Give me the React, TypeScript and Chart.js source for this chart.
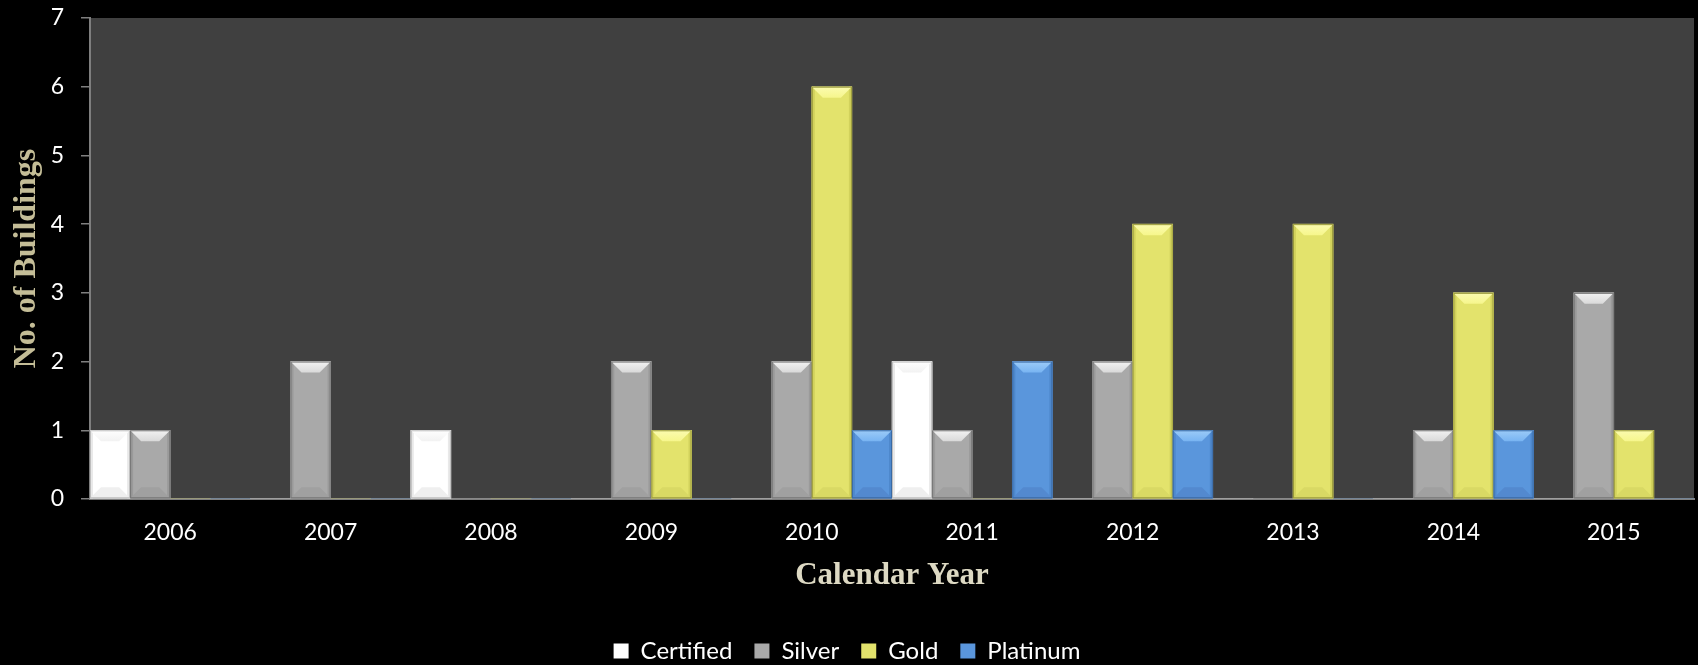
import React, { useEffect, useRef } from "react";
import { Chart, registerables } from "chart.js";

Chart.register(...registerables);

// ---- data ----
const years = ["2006", "2007", "2008", "2009", "2010", "2011", "2012", "2013", "2014", "2015"];
const seriesNames = ["Certified", "Silver", "Gold", "Platinum"];
const certified = [1, 0, 1, 0, 0, 2, 0, 0, 0, 0];
const silver = [1, 2, 0, 2, 2, 1, 2, 0, 1, 3];
const gold = [0, 0, 0, 1, 6, 0, 4, 4, 3, 1];
const platinum = [0, 0, 0, 0, 1, 2, 1, 0, 1, 0];
const yMin = 0;
const yMax = 7;
const yStep = 1;
const xTitle = "Calendar Year";
const yTitle = "No. of Buildings";

// ---- styles ----
const barStyles = [
  { main: "#ffffff", top: "#f2f2f2", hi: "#ffffff", side: "#e9e9e9", bottom: "#efefef", edge: "#bdbdbd" },
  { main: "#a9a9a9", top: "#d9d9d9", hi: "#f2f2f2", side: "#9a9a9a", bottom: "#a0a0a0", edge: "#767676" },
  { main: "#e3e36c", top: "#f6f68c", hi: "#fbfbb0", side: "#d2d25c", bottom: "#d9d964", edge: "#9a9a3c" },
  { main: "#5a96dc", top: "#78b4f2", hi: "#9ccbf8", side: "#4e88cc", bottom: "#5389cf", edge: "#3a6aa4" },
];

const bevelPlugin = {
  id: "bevel",
  beforeDraw(chart: any) {
    const { ctx, chartArea } = chart;
    ctx.save();
    ctx.fillStyle = "#000000";
    ctx.fillRect(0, 0, chart.width, chart.height);
    ctx.fillStyle = "#404040";
    ctx.fillRect(chartArea.left, chartArea.top, chartArea.right - chartArea.left, chartArea.bottom - chartArea.top);
    ctx.restore();
  },
  afterDatasetsDraw(chart: any) {
    const ctx = chart.ctx;
    const poly = (pts: number[][], fill: any) => {
      ctx.beginPath();
      ctx.moveTo(pts[0][0], pts[0][1]);
      for (let i = 1; i < pts.length; i++) ctx.lineTo(pts[i][0], pts[i][1]);
      ctx.closePath();
      ctx.fillStyle = fill;
      ctx.fill();
    };
    chart.getSortedVisibleDatasetMetas().forEach((meta: any) => {
      const st = barStyles[meta.index];
      meta.data.forEach((el: any) => {
        const p = el.getProps(["x", "y", "base", "width"], true);
        const l = p.x - p.width / 2;
        const r = p.x + p.width / 2;
        const t = Math.min(p.y, p.base);
        const b = Math.max(p.y, p.base);
        const h = b - t;
        if (h < 1) return;
        const w = r - l;
        const bv = Math.min(11, h / 2, w / 2);
        const sd = 3;
        ctx.save();
        ctx.fillStyle = st.side;
        ctx.fillRect(l, t, sd, h);
        ctx.fillRect(r - sd, t, sd, h);
        poly([[l, b], [r, b], [r - bv, b - bv], [l + bv, b - bv]], st.bottom);
        const g = ctx.createLinearGradient(0, t, 0, t + bv);
        g.addColorStop(0, st.hi);
        g.addColorStop(1, st.top);
        poly([[l, t], [r, t], [r - bv, t + bv], [l + bv, t + bv]], g);
        ctx.strokeStyle = st.edge;
        ctx.lineWidth = 1;
        ctx.strokeRect(l + 0.5, t + 0.5, w - 1, h - 1);
        ctx.restore();
      });
    });
  },
};

export default function App() {
  const ref = useRef<HTMLCanvasElement | null>(null);

  useEffect(() => {
    if (!ref.current) return;
    const series = [certified, silver, gold, platinum];
    const chart = new Chart(ref.current, {
      type: "bar",
      data: {
        labels: years,
        datasets: series.map((vals, i) => ({
          label: seriesNames[i],
          data: vals,
          backgroundColor: barStyles[i].main,
          borderColor: barStyles[i].edge,
          borderWidth: 0,
          categoryPercentage: 1,
          barPercentage: 1,
        })),
      },
      options: {
        animation: false,
        responsive: false,
        devicePixelRatio: 1,
        events: [],
        layout: { padding: { top: 18, right: 4, left: 0, bottom: 0 } },
        plugins: {
          tooltip: { enabled: false },
          legend: {
            position: "bottom",
            labels: {
              color: "#ffffff",
              font: { family: "Lato", size: 24 },
              boxWidth: 15,
              boxHeight: 15,
              padding: 22,
            },
          },
        },
        scales: {
          x: {
            afterFit: (s: any) => {
              s.height = 118;
              s.paddingLeft = 0;
              s.paddingRight = 0;
            },
            grid: { display: false, drawTicks: false },
            border: { display: true, color: "#7f7f7f", width: 2 },
            ticks: { color: "#ffffff", font: { family: "Lato", size: 23 }, padding: 20, maxRotation: 0 },
            title: {
              display: true,
              text: xTitle,
              color: "#ddd9c3",
              font: { family: "Liberation Serif", size: 31, weight: "bold" },
              padding: { top: 0, bottom: 22 },
            },
          },
          y: {
            min: yMin,
            max: yMax,
            afterFit: (s: any) => {
              s.width = 90;
              s.paddingTop = 0;
              s.paddingBottom = 0;
            },
            grid: { drawOnChartArea: false, drawTicks: true, tickLength: 9, color: "#7f7f7f", lineWidth: 1.5 },
            border: { display: true, color: "#7f7f7f", width: 2 },
            ticks: { stepSize: yStep, color: "#ffffff", font: { family: "Lato", size: 23 }, padding: 17 },
            title: {
              display: true,
              text: yTitle,
              color: "#c4bd97",
              font: { family: "Liberation Serif", size: 32, weight: "bold" },
              padding: { top: 8, bottom: 0 },
            },
          },
        },
      },
      plugins: [bevelPlugin],
    } as any);
    return () => chart.destroy();
  }, []);

  return (
    <div style={{ position: "fixed", left: 0, top: 0, width: 1698, height: 665, overflow: "hidden", background: "#000" }}>
      <canvas ref={ref} width={1698} height={673} style={{ display: "block", width: 1698, height: 673 }} />
    </div>
  );
}
